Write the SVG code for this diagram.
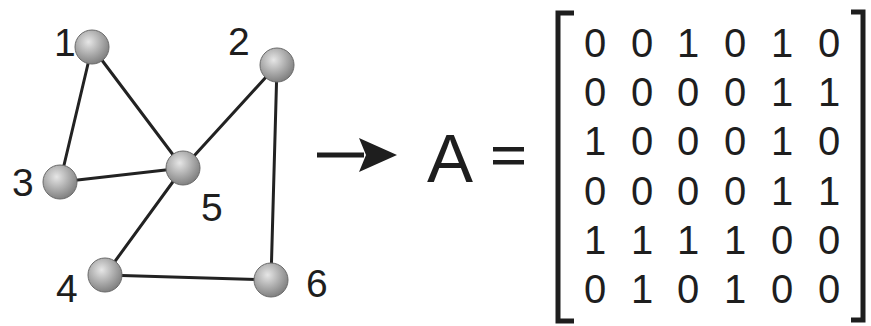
<svg xmlns="http://www.w3.org/2000/svg" width="871" height="326" viewBox="0 0 871 326">
<style>
.lbl{font-family:"Liberation Sans",Arial,sans-serif;font-size:39px;fill:#1e1e1e}
.m{font-family:"Liberation Sans",Arial,sans-serif;font-size:40px;fill:#1e1e1e;text-anchor:middle}
.edge{stroke:#222;stroke-width:3;fill:none;stroke-linecap:round}
.node{fill:url(#ball);stroke:#6a6a6a;stroke-width:1}
.br{stroke:#1e1e1e;stroke-width:5;fill:none}
</style>
<defs>
<radialGradient id="ball" cx="0.4" cy="0.35" r="0.7">
<stop offset="0" stop-color="#e6e6e6"/>
<stop offset="0.55" stop-color="#aaaaaa"/>
<stop offset="1" stop-color="#7a7a7a"/>
</radialGradient>
</defs>
<rect width="871" height="326" fill="#ffffff"/>
<g id="connectors">
<line class="edge" x1="92" y1="47" x2="60" y2="182"/>
<line class="edge" x1="92" y1="47" x2="183" y2="168"/>
<line class="edge" x1="60" y1="182" x2="183" y2="168"/>
<line class="edge" x1="277" y1="65" x2="183" y2="168"/>
<line class="edge" x1="277" y1="65" x2="271" y2="280"/>
<line class="edge" x1="105" y1="275" x2="183" y2="168"/>
<line class="edge" x1="105" y1="275" x2="271" y2="280"/>
</g>
<g id="node1"><circle class="node" cx="92" cy="47" r="17"/><text class="lbl" x="54" y="56">1</text></g>
<g id="node2"><circle class="node" cx="277" cy="65" r="17"/><text class="lbl" x="228" y="55">2</text></g>
<g id="node3"><circle class="node" cx="60" cy="182" r="17"/><text class="lbl" x="12" y="196">3</text></g>
<g id="node5"><circle class="node" cx="183" cy="168" r="17"/><text class="lbl" x="201" y="221">5</text></g>
<g id="node4"><circle class="node" cx="105" cy="275" r="17"/><text class="lbl" x="56" y="302">4</text></g>
<g id="node6"><circle class="node" cx="271" cy="280" r="17"/><text class="lbl" x="306" y="297">6</text></g>
<g id="arrow">
<line x1="317" y1="155" x2="364" y2="155" stroke="#1e1e1e" stroke-width="5"/>
<polygon points="359,138 397,155 359,172 366,155" fill="#1e1e1e"/>
</g>
<g id="matrix">
<text x="427" y="182" font-family="Liberation Sans, Arial, sans-serif" font-size="69" fill="#1e1e1e">A</text>
<rect x="493" y="147" width="31" height="4.5" fill="#1e1e1e"/>
<rect x="493" y="160" width="31" height="4.5" fill="#1e1e1e"/>
<polyline class="br" points="574,13 558,13 558,321 574,321"/>
<polyline class="br" points="851,12 863,12 863,320 851,320"/>
<text class="m" y="57"><tspan x="595">0</tspan><tspan x="642">0</tspan><tspan x="688">1</tspan><tspan x="735">0</tspan><tspan x="782">1</tspan><tspan x="829">0</tspan></text>
<text class="m" y="106"><tspan x="595">0</tspan><tspan x="642">0</tspan><tspan x="688">0</tspan><tspan x="735">0</tspan><tspan x="782">1</tspan><tspan x="829">1</tspan></text>
<text class="m" y="155"><tspan x="595">1</tspan><tspan x="642">0</tspan><tspan x="688">0</tspan><tspan x="735">0</tspan><tspan x="782">1</tspan><tspan x="829">0</tspan></text>
<text class="m" y="205"><tspan x="595">0</tspan><tspan x="642">0</tspan><tspan x="688">0</tspan><tspan x="735">0</tspan><tspan x="782">1</tspan><tspan x="829">1</tspan></text>
<text class="m" y="254"><tspan x="595">1</tspan><tspan x="642">1</tspan><tspan x="688">1</tspan><tspan x="735">1</tspan><tspan x="782">0</tspan><tspan x="829">0</tspan></text>
<text class="m" y="303"><tspan x="595">0</tspan><tspan x="642">1</tspan><tspan x="688">0</tspan><tspan x="735">1</tspan><tspan x="782">0</tspan><tspan x="829">0</tspan></text>
</g>
</svg>
